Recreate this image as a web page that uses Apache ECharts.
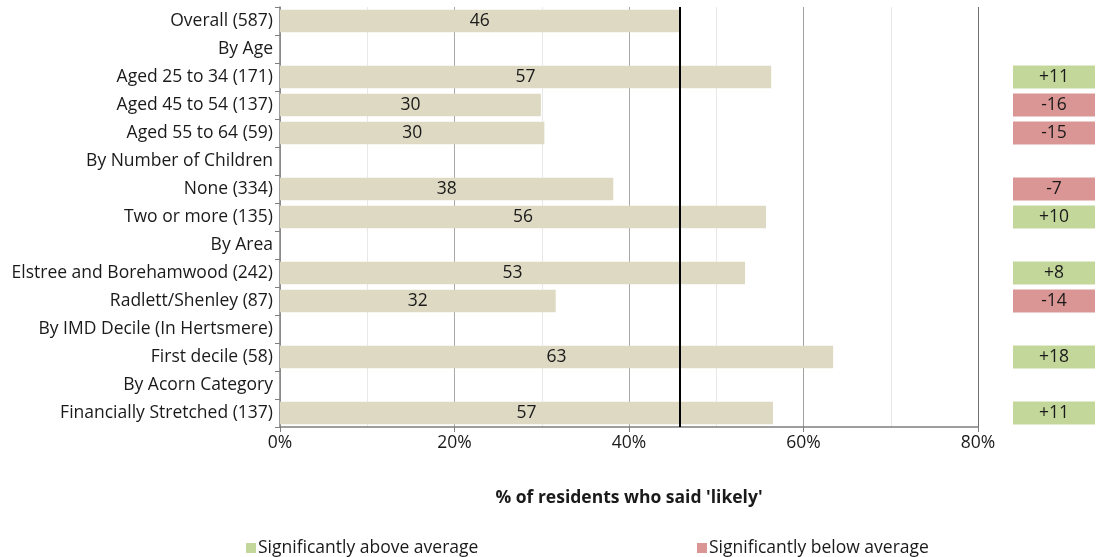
<!DOCTYPE html>
<html><head><meta charset="utf-8">
<script src="https://cdn.jsdelivr.net/npm/echarts@6/dist/echarts.min.js"></script>
<style>html,body{margin:0;padding:0;background:#fff}#c{width:1099px;height:557px}</style>
</head><body><div id="c"></div>
<script>
const categories = ["Overall (587)","By Age","Aged 25 to 34 (171)","Aged 45 to 54 (137)","Aged 55 to 64 (59)","By Number of Children","None (334)","Two or more (135)","By Area","Elstree and Borehamwood (242)","Radlett/Shenley (87)","By IMD Decile (In Hertsmere)","First decile (58)","By Acorn Category","Financially Stretched (137)"];
const values = [45.8,null,56.3,29.9,30.3,null,38.2,55.7,null,53.3,31.6,null,63.4,null,56.5];
const valueLabels = ["46","","57","30","30","","38","56","","53","32","","63","","57"];
const diffs = [null,null,11,-16,-15,null,-7,10,null,8,-14,null,18,null,11];
const diffLabels = ["","","+11","-16","-15","","-7","+10","","+8","-14","","+18","","+11"];
const overallAverage = 45.8;
const xTicks = [0,20,40,60,80];

const FONT = "'Open Sans', sans-serif";
const FS = 17.5;
const TXT = '#1a1a1a';
const GREEN = '#c4d79b', RED = '#da9694', BAR = '#ddd9c3';

const chart = echarts.init(document.getElementById('c'));
chart.setOption({
  animation:false,
  textStyle:{fontFamily:FONT},
  grid:[
    {left:280, top:7, width:698, height:420},
    {left:1013, top:7, width:82, height:420}
  ],
  xAxis:[
    {gridIndex:0, type:'value', min:0, max:80, interval:20,
     axisLine:{show:true, lineStyle:{color:'#7f7f7f', width:1.5}},
     axisTick:{show:true, length:5, lineStyle:{color:'#7f7f7f'}},
     axisLabel:{formatter:v=>xTicks.includes(v)?v+'%':'', color:TXT, fontSize:FS, margin:7, fontFamily:FONT},
     splitLine:{show:true, lineStyle:{color:['#b0b0b0','#a8a8a8','#a8a8a8','#a0a0a0','#707070'], width:1}},
     minorTick:{show:false, splitNumber:2},
     minorSplitLine:{show:true, lineStyle:{color:'#e8e8e8', width:1}},
     name:"% of residents who said 'likely'", nameLocation:'middle', nameGap:62,
     nameTextStyle:{fontWeight:'bold', fontSize:FS, color:TXT, fontFamily:FONT}},
    {gridIndex:1, type:'value', min:0, max:1, show:false}
  ],
  yAxis:[
    {gridIndex:0, type:'category', data:categories, inverse:true,
     axisLine:{show:true, lineStyle:{color:'#7f7f7f', width:1.5}},
     axisTick:{show:true, length:5, lineStyle:{color:'#7f7f7f'}},
     axisLabel:{color:TXT, fontSize:FS, margin:7, fontFamily:FONT},
     splitLine:{show:false}},
    {gridIndex:1, type:'category', data:categories, inverse:true, show:false}
  ],
  legend:[
    {left:241, top:534, icon:'rect', itemWidth:10, itemHeight:10, itemGap:5,
     data:['Significantly above average'], textStyle:{fontSize:FS, color:TXT, fontFamily:FONT, padding:[0,0,0,-3]}},
    {left:692, top:534, icon:'rect', itemWidth:10, itemHeight:10, itemGap:5,
     data:['Significantly below average'], textStyle:{fontSize:FS, color:TXT, fontFamily:FONT, padding:[0,0,0,-3]}}
  ],
  series:[
    {type:'bar', xAxisIndex:0, yAxisIndex:0, data:values, barCategoryGap:'20%',
     itemStyle:{color:BAR},
     label:{show:true, position:'inside', color:TXT, fontSize:FS, fontFamily:FONT,
            formatter:p=>valueLabels[p.dataIndex]},
     markLine:{silent:true, symbol:'none', label:{show:false},
               lineStyle:{color:'#000', width:2, type:'solid'},
               data:[{xAxis:overallAverage}]},
     z:3},
    {type:'bar', xAxisIndex:1, yAxisIndex:1, barCategoryGap:'18%',
     data:diffs.map(d=>d===null?null:{value:1, itemStyle:{color:d>0?GREEN:RED}}),
     label:{show:true, position:'inside', color:TXT, fontSize:FS, fontFamily:FONT,
            formatter:p=>diffLabels[p.dataIndex]}},
    {type:'line', name:'Significantly above average', xAxisIndex:1, yAxisIndex:1, data:[], itemStyle:{color:GREEN}, lineStyle:{color:GREEN}},
    {type:'line', name:'Significantly below average', xAxisIndex:1, yAxisIndex:1, data:[], itemStyle:{color:RED}, lineStyle:{color:RED}}
  ]
});
</script></body></html>
